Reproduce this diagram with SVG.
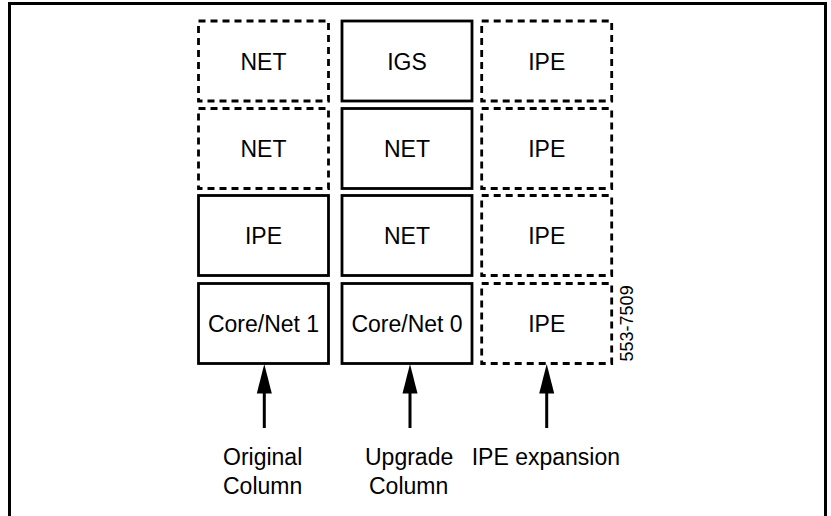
<svg xmlns="http://www.w3.org/2000/svg" width="831" height="516" viewBox="0 0 831 516">
<defs>
<style>
.box{fill:#fff;stroke:#000;stroke-width:2.8}
.dash{stroke-dasharray:7 5}
.t{font-family:"Liberation Sans",Arial,sans-serif;font-size:23px;fill:#000;text-anchor:middle}
.lb{font-family:"Liberation Sans",Arial,sans-serif;font-size:23px;fill:#000}
.ln{stroke:#000;stroke-width:3;fill:none}
.ah{fill:#000;stroke:none}
</style>
</defs>
<rect width="831" height="516" fill="#fff"/>
<path class="ln" d="M9.5 516 V3.5 H825.5 V516"/>

<g id="c1r1"><rect class="box dash" x="198.5" y="21" width="130" height="80"/><text class="t" x="263.5" y="69.5">NET</text></g>
<g id="c1r2"><rect class="box dash" x="198.5" y="108.5" width="130" height="80"/><text class="t" x="263.5" y="157">NET</text></g>
<g id="c1r3"><rect class="box" x="198.5" y="195.5" width="130" height="80"/><text class="t" x="263.5" y="244">IPE</text></g>
<g id="c1r4"><rect class="box" x="198.5" y="283.5" width="130" height="80"/><text class="t" x="263.5" y="332">Core/Net 1</text></g>

<g id="c2r1"><rect class="box" x="342" y="21" width="130" height="80"/><text class="t" x="407" y="69.5">IGS</text></g>
<g id="c2r2"><rect class="box" x="342" y="108.5" width="130" height="80"/><text class="t" x="407" y="157">NET</text></g>
<g id="c2r3"><rect class="box" x="342" y="195.5" width="130" height="80"/><text class="t" x="407" y="244">NET</text></g>
<g id="c2r4"><rect class="box" x="342" y="283.5" width="130" height="80"/><text class="t" x="407" y="332">Core/Net 0</text></g>

<g id="c3r1"><rect class="box dash" x="481.7" y="21" width="130" height="80"/><text class="t" x="546.7" y="69.5">IPE</text></g>
<g id="c3r2"><rect class="box dash" x="481.7" y="108.5" width="130" height="80"/><text class="t" x="546.7" y="157">IPE</text></g>
<g id="c3r3"><rect class="box dash" x="481.7" y="195.5" width="130" height="80"/><text class="t" x="546.7" y="244">IPE</text></g>
<g id="c3r4"><rect class="box dash" x="481.7" y="283.5" width="130" height="80"/><text class="t" x="546.7" y="332">IPE</text></g>

<g id="connectors">
<line class="ln" x1="264.3" y1="428" x2="264.3" y2="390"/>
<polygon class="ah" points="264.3,364 271.8,393.5 256.8,393.5"/>
<line class="ln" x1="410" y1="428" x2="410" y2="390"/>
<polygon class="ah" points="410,364 417.5,393.5 402.5,393.5"/>
<line class="ln" x1="546.7" y1="428" x2="546.7" y2="390"/>
<polygon class="ah" points="546.7,364 554.2,393.5 539.2,393.5"/>
</g>

<g id="labels">
<text class="lb" x="223" y="465">Original</text>
<text class="lb" x="223" y="494">Column</text>
<text class="lb" x="365" y="465">Upgrade</text>
<text class="lb" x="369" y="494">Column</text>
<text class="lb" x="471.7" y="465">IPE expansion</text>
<text class="t" style="font-size:18px" transform="translate(632.5 323.4) rotate(-90)">553-7509</text>
</g>
</svg>
